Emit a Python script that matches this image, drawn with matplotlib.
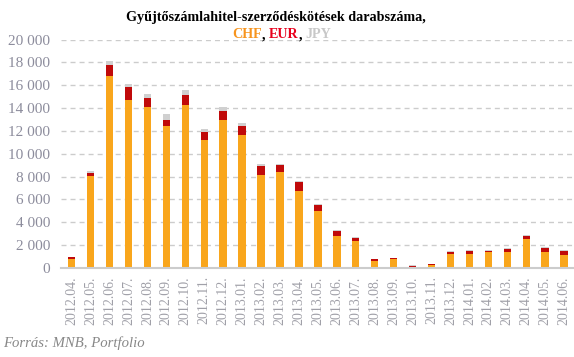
import numpy as np
import matplotlib
matplotlib.use("Agg")
import matplotlib.pyplot as plt

months = ["2012.04.", "2012.05.", "2012.06.", "2012.07.", "2012.08.", "2012.09.",
          "2012.10.", "2012.11.", "2012.12.", "2013.01.", "2013.02.", "2013.03.",
          "2013.04.", "2013.05.", "2013.06.", "2013.07.", "2013.08.", "2013.09.",
          "2013.10.", "2013.11.", "2013.12.", "2014.01.", "2014.02.", "2014.03.",
          "2014.04.", "2014.05.", "2014.06."]
chf = [820, 8050, 16800, 14700, 14080, 12420, 14250, 11190, 12940, 11630, 8130, 8400,
       6700, 4950, 2840, 2400, 640, 790, 100, 260, 1260, 1260, 1400, 1400, 2580, 1400, 1170]
eur = [110, 260, 950, 1130, 790, 520, 870, 700, 790, 790, 790, 610,
       790, 530, 440, 260, 150, 90, 110, 90, 150, 260, 120, 290, 260, 380, 350]
jpy = [30, 170, 350, 260, 350, 520, 440, 260, 350, 260, 175, 90,
       90, 90, 90, 90, 30, 30, 30, 30, 90, 30, 30, 30, 90, 30, 30]

C_CHF = "#f9a61c"
C_EUR = "#c00a0a"
C_JPY = "#d0d0d0"
SERIF = ["Liberation Serif", "DejaVu Serif"]

fig = plt.figure(figsize=(5.74, 3.57), dpi=100)
ax = fig.add_axes([0.1063, 0.2493, 0.892, 0.640])

x = np.arange(len(months))
chf = np.array(chf)
eur = np.array(eur)
jpy = np.array(jpy)
w = 0.39
ax.bar(x, chf, w, color=C_CHF, zorder=3)
ax.bar(x, eur, w, bottom=chf, color=C_EUR, zorder=3)
ax.bar(x, jpy, w, bottom=chf + eur, color=C_JPY, zorder=3)

ax.set_xlim(-0.56, 26.47)
ax.set_ylim(0, 20000)
ax.set_yticks(range(0, 20001, 2000))
ax.set_yticklabels([f"{v:,}".replace(",", " ") for v in range(0, 20001, 2000)],
                   family=SERIF, fontsize=11, color="#8c8c9c")
ax.set_xticks(x)
ax.set_xticklabels(months, rotation=90, family=SERIF, fontsize=10, color="#a0a0a8")
ax.tick_params(axis="both", length=0, pad=8)
ax.tick_params(axis="x", pad=6)

ax.grid(axis="y", color="#cccccc", linestyle=(0, (3.6, 2.9)), linewidth=1.0, zorder=0)
for s in ["top", "right", "left"]:
    ax.spines[s].set_visible(False)
ax.spines["bottom"].set_color("#cccccc")
ax.spines["bottom"].set_linewidth(1.5)
ax.spines["bottom"].set_zorder(4)

# title with coloured currency names
fig.text(0.481, 0.952, "Gyűjtőszámlahitel-szerződéskötések darabszáma,",
         ha="center", va="center", family=SERIF, fontsize=10.2, weight="bold")
parts = [("CHF", "#f7941d"), (", ", "black"), ("EUR", "#e8001c"), (", ", "black"), ("JPY", "#c8c8c8")]
fig.canvas.draw()
r = fig.canvas.get_renderer()
texts = []
for s, c in parts:
    t = fig.text(0, 0.903, s, ha="left", va="center", family=SERIF, fontsize=10.2,
                 weight="bold", color=c)
    texts.append(t)
widths = [t.get_window_extent(r).width for t in texts]
x0 = 282 - sum(widths) / 2
for t, wd in zip(texts, widths):
    t.set_x(x0 / 574)
    x0 += wd

fig.text(0.005, 0.04, "Forrás: MNB, Portfolio", ha="left", va="center",
         family=SERIF, style="italic", fontsize=10.6, color="#888888")

fig.savefig("out.png", dpi=100)
